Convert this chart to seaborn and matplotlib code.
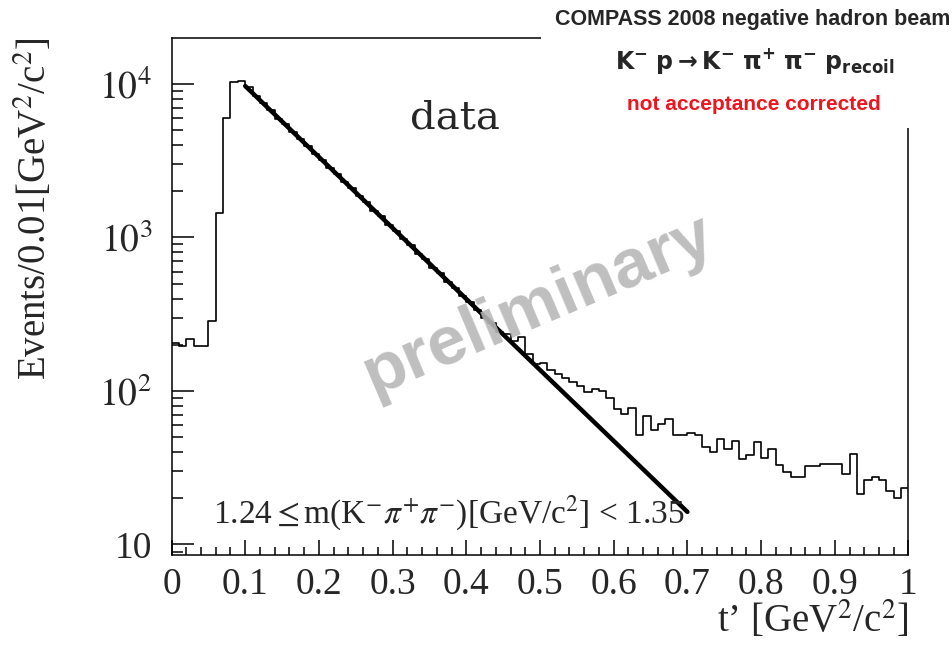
import matplotlib
matplotlib.use("Agg")
import matplotlib.pyplot as plt
import numpy as np
import pandas as pd
import seaborn as sns
from matplotlib.patches import Rectangle
from matplotlib.ticker import FixedFormatter, FixedLocator, LogLocator, MultipleLocator, NullFormatter

# events per 0.01 GeV^2/c^2 bin, t' from 0 to 1 (100 bins)
EVENTS = [
    206, 195, 219, 196, 196, 287, 1440, 5970, 10300, 10500,
    9600, 8300, 7500, 6750, 5950, 5450, 4900, 4350, 3950, 3500,
    3200, 2830, 2590, 2290, 2090, 1850, 1690, 1490, 1370, 1200,
    1110, 975, 895, 785, 725, 635, 585, 512, 470, 415,
    382, 335, 300, 278, 244, 235, 213, 224, 174, 150,
    153, 136, 129, 121, 115, 108, 99, 103, 100, 90,
    76, 71, 77, 52, 69, 56, 61, 66, 52, 52,
    53, 52, 43, 40, 48.5, 42, 47, 36, 38, 46.5,
    36.5, 42, 33, 29.5, 27.7, 27.7, 32.5, 32.6, 33.3, 33.3,
    33.3, 28.8, 38.7, 21.3, 26.3, 27.4, 26.3, 22.4, 20.2, 23.2,
]
T_MIN, T_MAX = 0.0, 1.0
BIN_WIDTH = 0.01

# exponential fit, straight on the log axis: end points
FIT_T = [0.1, 0.7]
FIT_EVENTS = [9700, 16.3]

X_TICKS = [0, 0.1, 0.2, 0.3, 0.4, 0.5, 0.6, 0.7, 0.8, 0.9, 1.0]
X_TICK_LABELS = ["0", "0.1", "0.2", "0.3", "0.4", "0.5", "0.6", "0.7", "0.8", "0.9", "1"]
Y_TICKS = [10, 100, 1000, 10000]
Y_TICK_LABELS = ["10", "$10^{2}$", "$10^{3}$", "$10^{4}$"]
Y_LIM = (8.54, 19930)

HEADER_1 = "COMPASS 2008 negative hadron beam"
HEADER_2 = r"$\mathbf{K^{-}\ p \rightarrow K^{-}\ \pi^{+}\ \pi^{-}\ p_{recoil}}$"
HEADER_3 = "not acceptance corrected"
MASS_CUT = r"1.24$\leq$m(K$^{-}\pi^{+}\pi^{-}$)[GeV/c$^{2}$] < 1.35"


def main() -> None:
    sns.set_style("ticks")
    plt.rcParams["font.family"] = ["Liberation Serif", "DejaVu Serif"]
    plt.rcParams["mathtext.fontset"] = "stix"

    centers = T_MIN + BIN_WIDTH * (np.arange(len(EVENTS)) + 0.5)
    hist = pd.DataFrame({"t": centers, "events": EVENTS})
    fit = pd.DataFrame({"t": FIT_T, "events": FIT_EVENTS})

    fig = plt.figure(figsize=(9.53, 6.54), dpi=100)
    ax = fig.add_axes([171.5 / 953, 1 - 555 / 654, 737 / 953, 517 / 654])

    sns.histplot(data=hist, x="t", weights="events", binwidth=BIN_WIDTH,
                 binrange=(T_MIN, T_MAX), element="step", fill=False,
                 color="black", linewidth=1.2, ax=ax)
    sns.lineplot(data=fit, x="t", y="events", color="black", linewidth=3.2, ax=ax)

    ax.set_yscale("log")
    ax.set_xlim(T_MIN, T_MAX)
    ax.set_ylim(*Y_LIM)

    ax.xaxis.set_major_locator(FixedLocator(X_TICKS))
    ax.xaxis.set_major_formatter(FixedFormatter(X_TICK_LABELS))
    ax.xaxis.set_minor_locator(MultipleLocator(0.02))
    ax.yaxis.set_major_locator(FixedLocator(Y_TICKS))
    ax.yaxis.set_major_formatter(FixedFormatter(Y_TICK_LABELS))
    ax.yaxis.set_minor_locator(LogLocator(base=10, subs=np.arange(2, 10)))
    ax.yaxis.set_minor_formatter(NullFormatter())

    ax.tick_params(axis="both", which="both", direction="in", color="black", width=1.1)
    ax.tick_params(axis="x", which="major", length=11, pad=9, labelsize=27)
    ax.tick_params(axis="x", which="minor", length=6)
    ax.tick_params(axis="y", which="major", length=16, pad=14, labelsize=27)
    ax.tick_params(axis="y", which="minor", length=8)
    for side in ax.spines.values():
        side.set_linewidth(1.1)
        side.set_color("black")

    ax.set_xlabel("t\u2019 [GeV$^{2}$/c$^{2}$]", fontsize=28, loc="right")
    ax.xaxis.set_label_coords(1.0, -0.085)
    ax.set_ylabel("Events/0.01[GeV$^{2}$/c$^{2}$]", fontsize=28)
    ax.yaxis.set_label_coords(-0.158, 0.670)

    fig.text(455 / 953, 1 - 118 / 654, "data", family="DejaVu Serif", fontsize=29,
             ha="center", va="center")
    fig.text(449 / 953, 1 - 513 / 654, MASS_CUT, fontsize=24, ha="center", va="center")
    fig.text(538 / 953, 1 - 305 / 654, "preliminary", family="Liberation Sans",
             fontweight="bold", fontsize=50, color="#b8b8b8", alpha=0.9,
             rotation=23, ha="center", va="center", zorder=10)

    # white header box covering the top of the frame
    fig.patches.append(Rectangle((541 / 953, 1 - 128 / 654), 412 / 953, 128 / 654,
                                 transform=fig.transFigure, facecolor="white",
                                 edgecolor="none", zorder=5))
    fig.text(753 / 953, 1 - 20 / 654, HEADER_1, family="Liberation Sans",
             fontweight="bold", fontsize=15.5, ha="center", va="center", zorder=6)
    fig.text(755 / 953, 1 - 61 / 654, HEADER_2, math_fontfamily="dejavusans",
             fontsize=17, ha="center", va="center", zorder=6)
    fig.text(754 / 953, 1 - 105 / 654, HEADER_3, family="Liberation Sans",
             fontweight="bold", fontsize=15, color="#f0141e", ha="center",
             va="center", zorder=6)

    fig.savefig("out.png", dpi=100)


if __name__ == "__main__":
    main()
